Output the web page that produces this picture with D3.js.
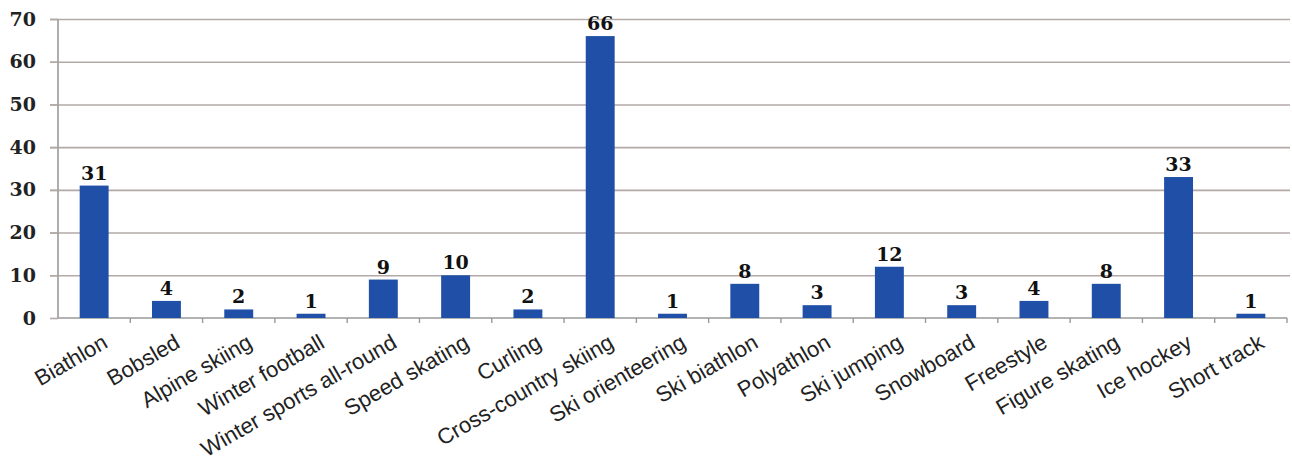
<!DOCTYPE html>
<html><head><meta charset="utf-8">
<script src="https://cdn.jsdelivr.net/npm/d3@7/dist/d3.min.js"></script>
<style>body{margin:0;background:#fff}svg{display:block}</style>
</head><body>
<svg id="c" width="1292" height="463"></svg>
<script>
const categories = ["Biathlon","Bobsled","Alpine skiing","Winter football","Winter sports all-round","Speed skating","Curling","Cross-country skiing","Ski orienteering","Ski biathlon","Polyathlon","Ski jumping","Snowboard","Freestyle","Figure skating","Ice hockey","Short track"];
const values = [31,4,2,1,9,10,2,66,1,8,3,12,3,4,8,33,1];
const yTicks = [0,10,20,30,40,50,60,70];

(function(){
const svg = d3.select("#c");
const mLeft = 58, mRight = 1287, mTop = 19, mBottom = 318;
const x = d3.scaleBand().domain(categories).range([mLeft, mRight]).paddingInner(0.6).paddingOuter(0.3);
const xb = d3.scaleBand().domain(categories).range([mLeft, mRight]);
const y = d3.scaleLinear().domain([0,70]).range([mBottom, mTop]);

// gridlines
svg.append("g").selectAll("line").data(yTicks.filter(d=>d>0)).join("line")
  .attr("x1", 50).attr("x2", 1290)
  .attr("y1", d=>y(d)+0.5).attr("y2", d=>y(d)+0.5)
  .attr("stroke", "#b3a9a7").attr("stroke-width", 1.6);

// y axis
const ya = d3.axisLeft(y).tickValues(yTicks).tickSize(8).tickPadding(14);
const gy = svg.append("g").attr("transform", `translate(${mLeft},0)`).call(ya);
gy.select(".domain").attr("stroke", "#9a9a9a").attr("stroke-width", 1.6).attr("d", `M0,${mTop}V${mBottom}`);
gy.selectAll(".tick line").attr("stroke", "#b3a9a7").attr("stroke-width", 1.6);
gy.selectAll(".tick text").attr("font-family", "DejaVu Serif").attr("font-weight", "bold")
  .attr("font-size", 19).attr("fill", "#222");

// x axis
const xa = d3.axisBottom(xb).tickSize(0).tickFormat("");
const gx = svg.append("g").attr("transform", `translate(0,${mBottom})`).call(xa);
gx.select(".domain").attr("stroke", "#9a9a9a").attr("stroke-width", 1.6).attr("d", `M${mLeft},0H${mRight}`);
gx.selectAll(".tick").remove();
svg.append("g").selectAll("line").data(categories).join("line")
  .attr("x1", d=>xb(d)+xb.bandwidth()).attr("x2", d=>xb(d)+xb.bandwidth())
  .attr("y1", mBottom).attr("y2", mBottom+5)
  .attr("stroke", "#9a9a9a").attr("stroke-width", 1.4);

// bars
svg.append("g").selectAll("rect").data(categories).join("rect")
  .attr("x", d=>x(d)).attr("width", x.bandwidth())
  .attr("y", (d,i)=>y(values[i])).attr("height", (d,i)=>mBottom - y(values[i]))
  .attr("fill", "#1f4fa6");

// value labels
svg.append("g").selectAll("text").data(categories).join("text")
  .attr("x", d=>x(d)+x.bandwidth()/2).attr("y", (d,i)=>y(values[i])-6)
  .attr("text-anchor", "middle")
  .attr("font-family", "DejaVu Serif").attr("font-weight", "bold").attr("font-size", 19)
  .attr("fill", "#111").text((d,i)=>values[i]);

// category labels
svg.append("g").selectAll("text").data(categories).join("text")
  .attr("transform", d=>`translate(${x(d)+x.bandwidth()/2+7},${mBottom+15}) rotate(-30)`)
  .attr("text-anchor", "end").attr("dy", "0.72em")
  .attr("font-family", "Liberation Sans, Arial, sans-serif").attr("font-size", 22)
  .attr("fill", "#222").text(d=>d);
})();
</script>
</body></html>
